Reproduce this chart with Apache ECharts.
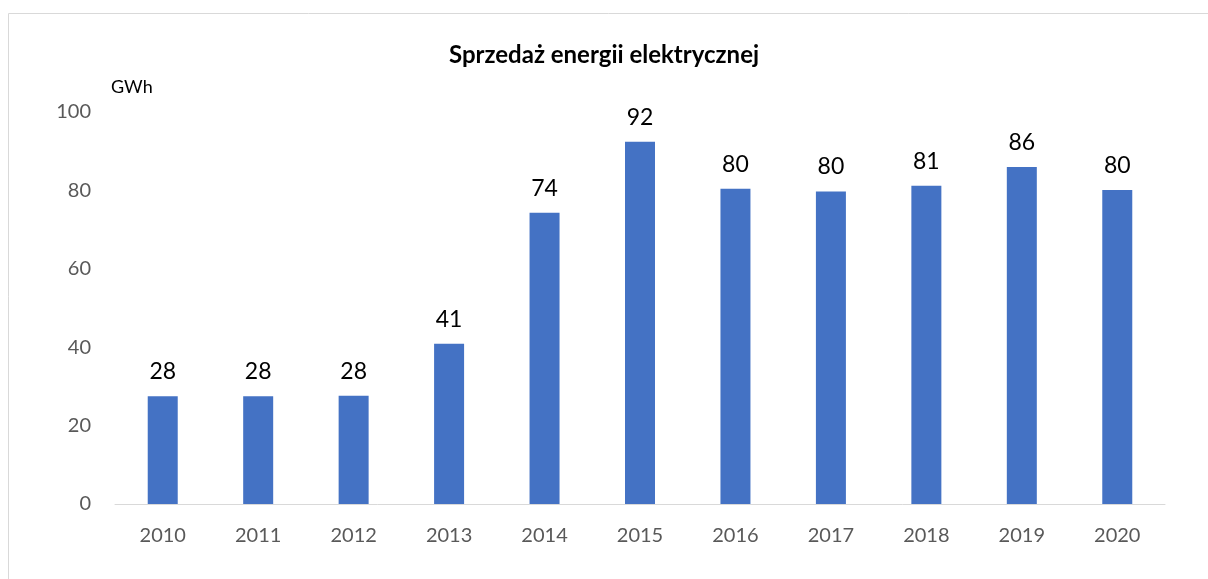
<!DOCTYPE html>
<html><head><meta charset="utf-8">
<script src="https://cdn.jsdelivr.net/npm/echarts@6/dist/echarts.min.js"></script>
<style>html,body{margin:0;padding:0;background:#fff}#c{width:1208px;height:579px}</style>
</head><body><div id="c"></div>
<script>
const title = 'Sprzedaż energii elektrycznej';
const unit = 'GWh';
const categories = ['2010','2011','2012','2013','2014','2015','2016','2017','2018','2019','2020'];
const sales = [27.5, 27.5, 27.6, 40.9, 74.3, 92.4, 80.4, 79.7, 81.2, 86.0, 80.1];
const yTicks = [0, 20, 40, 60, 80, 100];

const chart = echarts.init(document.getElementById('c'));
const font = 'Lato, "Open Sans", sans-serif';
chart.setOption({
  animation: false,
  graphic: [{type:'rect', shape:{x:8.5,y:13.5,width:1300,height:700}, style:{fill:'none', stroke:'#d9d9d9', lineWidth:1}, silent:true}],
  title: {text: title, left: 'center', top: 38, textStyle:{fontFamily:font, fontWeight:'bold', fontSize:24, color:'#000'}},
  grid: {left: 115, right: 43, top: 112, bottom: 75, containLabel: false},
  xAxis: {type:'category', data: categories,
    axisLine:{lineStyle:{color:'#d9d9d9', width:1}}, axisTick:{show:false},
    axisLabel:{color:'#595959', fontFamily:font, fontSize:20, margin:22}},
  yAxis: {type:'value', min: yTicks[0], max: yTicks[yTicks.length-1], interval: 20,
    name: unit, nameLocation:'end', nameGap: 16, nameTextStyle:{color:'#000', fontFamily:font, fontSize:18, align:'left', padding:[0,0,0,-4]},
    axisLine:{show:false}, axisTick:{show:false}, splitLine:{show:false},
    axisLabel:{color:'#595959', fontFamily:font, fontSize:20, margin:24}},
  series: [{type:'bar', data: sales, barWidth: 30,
    itemStyle:{color:'#4472C4'},
    label:{show:true, position:'top', distance:13, color:'#000', fontFamily:font, fontSize:23,
      formatter: p => Math.round(p.value)}}]
});
</script></body></html>
